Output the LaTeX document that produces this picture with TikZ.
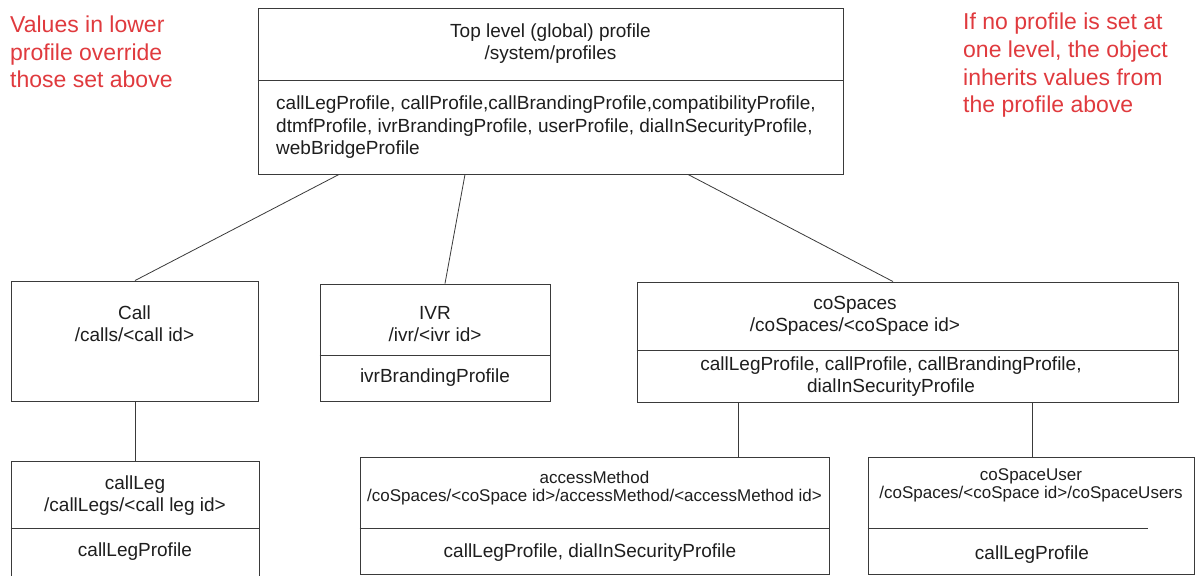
\documentclass[tikz,border=0pt]{standalone}
\usepackage{fontspec}
\setmainfont{Liberation Sans}
\usetikzlibrary{calc}
\definecolor{linec}{HTML}{3A3A3A}
\definecolor{txt}{HTML}{1E1E1E}
\definecolor{redc}{HTML}{E03A3E}
\begin{document}
\begin{tikzpicture}[x=1pt,y=-1pt,
  box/.style={draw=linec, line width=0.9pt, inner sep=0pt},
  conn/.style={draw=linec, line width=0.8pt},
  lbl/.style={text=txt, font=\fontsize{19}{22}\selectfont, align=center, inner sep=0pt},
  sml/.style={text=txt, font=\fontsize{17}{18}\selectfont, align=center, inner sep=0pt},
  note/.style={text=redc, font=\fontsize{23}{27.7}\selectfont, align=left, inner sep=0pt, anchor=west}]
\useasboundingbox (0,0) rectangle (1195,576);
\fill[white] (0,0) rectangle (1195,576);
\clip (0,0) rectangle (1195,576);
% boxes
\node[box, minimum width=585pt, minimum height=166pt] (top) at (550.5,91) {};
\node[box, minimum width=247pt, minimum height=120pt] (call) at (134.5,341) {};
\node[box, minimum width=230pt, minimum height=117pt] (ivr) at (435,342.5) {};
\node[box, minimum width=541pt, minimum height=120pt] (cosp) at (907.5,342) {};
\node[box, minimum width=248pt, minimum height=130pt] (leg) at (135,526) {};
\node[box, minimum width=469pt, minimum height=117pt] (acc) at (594.5,515.5) {};
\node[box, minimum width=326pt, minimum height=117pt] (user) at (1031,515.5) {};
% dividers
\draw[conn] (top.west |- 0,80) -- (top.east |- 0,80);
\draw[conn] (ivr.west |- 0,355) -- (ivr.east |- 0,355);
\draw[conn] (cosp.west |- 0,350) -- (cosp.east |- 0,350);
\draw[conn] (leg.west |- 0,528) -- (leg.east |- 0,528);
\draw[conn] (acc.west |- 0,528) -- (acc.east |- 0,528);
\draw[conn] (user.west |- 0,528) -- (1148,528);
% connectors
\draw[conn] ([xshift=-211.5pt]top.south) -- ([xshift=0.5pt]call.north);
\draw[conn] ([xshift=-85.5pt]top.south) -- ([xshift=10pt]ivr.north);
\draw[conn] ([xshift=137.5pt]top.south) -- ([xshift=-14.5pt]cosp.north);
\draw[conn] ([xshift=0.5pt]call.south) -- (leg.north);
\draw[conn] ([xshift=-169.5pt]cosp.south) -- ([xshift=143.5pt]acc.north);
\draw[conn] ([xshift=124.5pt]cosp.south) -- ([xshift=1pt]user.north);
% texts
\node[lbl] (topT) at (550.5,44) {Top level (global) profile\\/system/profiles};
\node[lbl, font=\fontsize{19}{22.5}\selectfont, align=left, anchor=west] (topB) at (276,127.5) {callLegProfile, callProfile,callBrandingProfile,compatibilityProfile,\\dtmfProfile, ivrBrandingProfile, userProfile, dialInSecurityProfile,\\webBridgeProfile};
\node[lbl] (callT) at (134.5,324) {Call\\/calls/<call id>};
\node[lbl] (ivrT) at (435,324) {IVR\\/ivr/<ivr id>};
\node[lbl] (ivrB) at (435,378) {ivrBrandingProfile};
\node[lbl] (cospT) at (855,316) {coSpaces\\/coSpaces/<coSpace id>};
\node[lbl] (cospB) at (891,376.5) {callLegProfile, callProfile, callBrandingProfile,\\dialInSecurityProfile};
\node[lbl] (legT) at (135,495.5) {callLeg\\/callLegs/<call leg id>};
\node[lbl] (legB) at (135,552) {callLegProfile};
\node[sml] (accT) at (594.5,488) {accessMethod\\/coSpaces/<coSpace id>/accessMethod/<accessMethod id>};
\node[lbl] (accB) at (590,553) {callLegProfile, dialInSecurityProfile};
\node[sml] (userT) at (1031,485.5) {coSpaceUser\\/coSpaces/<coSpace id>/coSpaceUsers};
\node[lbl] (userB) at (1032,555) {callLegProfile};
\node[note] (noteL) at (10,52) {Values in lower\\profile override\\those set above};
\node[note] (noteR) at (963,65.5) {If no profile is set at\\one level, the object\\inherits values from\\the profile above};
\end{tikzpicture}
\end{document}
